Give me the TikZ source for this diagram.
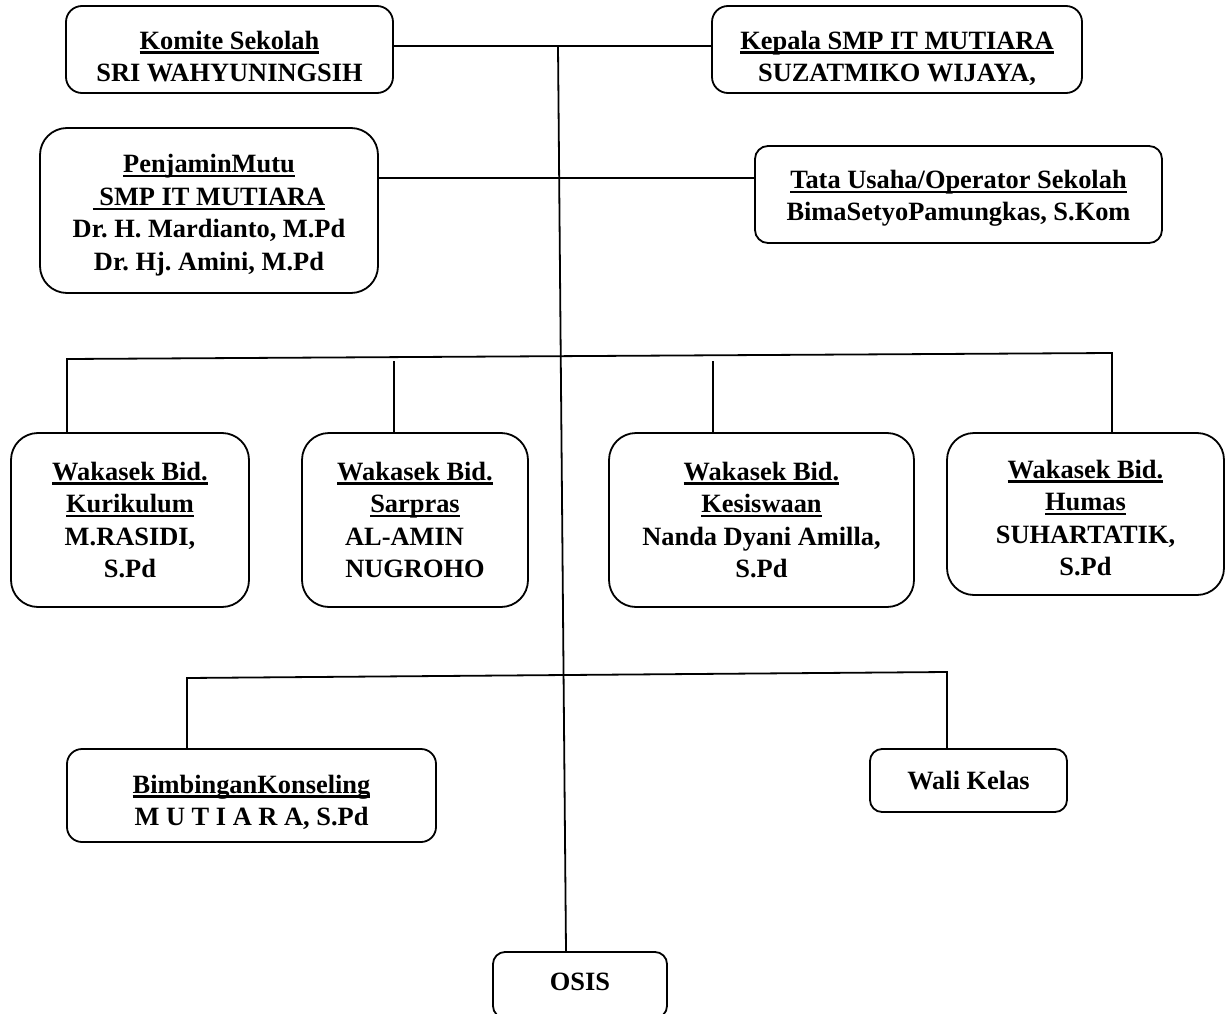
\documentclass[tikz,border=0pt]{standalone}
\usepackage{fontspec}
\setmainfont{Liberation Serif}
\frenchspacing

\newcommand{\uln}[1]{\leavevmode\setbox0\hbox{#1}\rlap{\rule[-4.5pt]{\wd0}{2.3pt}}\box0}
\newcommand{\padtop}[1]{\rule{0pt}{#1}}

\tikzset{
  unit/.style={draw, line width=1.8pt, rectangle, align=center, inner sep=0pt,
    font=\bfseries\fontsize{26.4}{32.5}\selectfont},
  link/.style={line width=1.8pt}
}

\begin{document}
\begin{tikzpicture}[x=1pt, y=-1pt]
\useasboundingbox (0,0) rectangle (1229,1014);
\clip (0,0) rectangle (1229,1014);

\node[unit, rounded corners=16pt, minimum width=327pt, minimum height=87pt] (komite) at (229.5,49.5) {\padtop{32pt}\uln{Komite Sekolah}\\SRI WAHYUNINGSIH};
\node[unit, rounded corners=16pt, minimum width=370pt, minimum height=87pt] (kepala) at (897,49.5) {\padtop{36pt}\uln{Kepala SMP IT MUTIARA}\\SUZATMIKO WIJAYA,};
\node[unit, rounded corners=27pt, minimum width=338pt, minimum height=165pt] (penjamin) at (209,210.5) {\padtop{28pt}\uln{PenjaminMutu}\\\uln{\ SMP IT MUTIARA}\\Dr. H. Mardianto, M.Pd\\Dr. Hj. Amini, M.Pd};
\node[unit, rounded corners=13pt, minimum width=407pt, minimum height=97pt] (tata) at (958.5,194.5) {\padtop{26pt}\uln{Tata Usaha/Operator Sekolah}\\BimaSetyoPamungkas, S.Kom};

\node[unit, rounded corners=27pt, minimum width=238pt, minimum height=174pt] (kur) at (130,520) {\uln{Wakasek Bid.}\\\uln{Kurikulum}\\M.RASIDI,\\S.Pd};
\node[unit, rounded corners=27pt, minimum width=226pt, minimum height=174pt] (sar) at (415,520) {\uln{Wakasek Bid.}\\\uln{Sarpras}\\AL-AMIN\rule{21pt}{0pt}\\NUGROHO};
\node[unit, rounded corners=27pt, minimum width=305pt, minimum height=174pt] (kes) at (761.5,520) {\uln{Wakasek Bid.}\\\uln{Kesiswaan}\\Nanda Dyani Amilla,\\S.Pd};
\node[unit, rounded corners=27pt, minimum width=277pt, minimum height=162pt] (hum) at (1085.5,514) {\padtop{26pt}\uln{Wakasek Bid.}\\\uln{Humas}\\SUHARTATIK,\\S.Pd};

\node[unit, rounded corners=15pt, minimum width=369pt, minimum height=93pt] (bk) at (251.5,795.5) {\padtop{32pt}\uln{BimbinganKonseling}\\M U T I A R A, S.Pd};
\node[unit, rounded corners=12pt, minimum width=197pt, minimum height=63pt] (wali) at (968.5,780.5) {Wali Kelas};
\node[unit, rounded corners=12pt, minimum width=174pt, minimum height=66pt] (osis) at (580,985) {OSIS\rule[-6pt]{0pt}{6pt}};

\coordinate (topj) at (558,46);
\coordinate (pmj) at (560,178);
\coordinate (wl) at (67,359);
\coordinate (wr) at (1112,353);
\coordinate (sd) at (394,361);
\coordinate (kd) at (713,361);
\coordinate (bl) at (187,678);
\coordinate (br) at (947,672);

\draw[link] (komite.east |- topj) -- (kepala.west |- topj);
\draw[link] (topj) -- ([xshift=-14pt]osis.north);
\draw[link] (penjamin.east |- pmj) -- (tata.west |- pmj);
\draw[link] (kur.north -| wl) -- (wl) -- (wr) -- (hum.north -| wr);
\draw[link] (sd) -- (sar.north -| sd);
\draw[link] (kd) -- (kes.north -| kd);
\draw[link] (bk.north -| bl) -- (bl) -- (br) -- (wali.north -| br);
\end{tikzpicture}
\end{document}
